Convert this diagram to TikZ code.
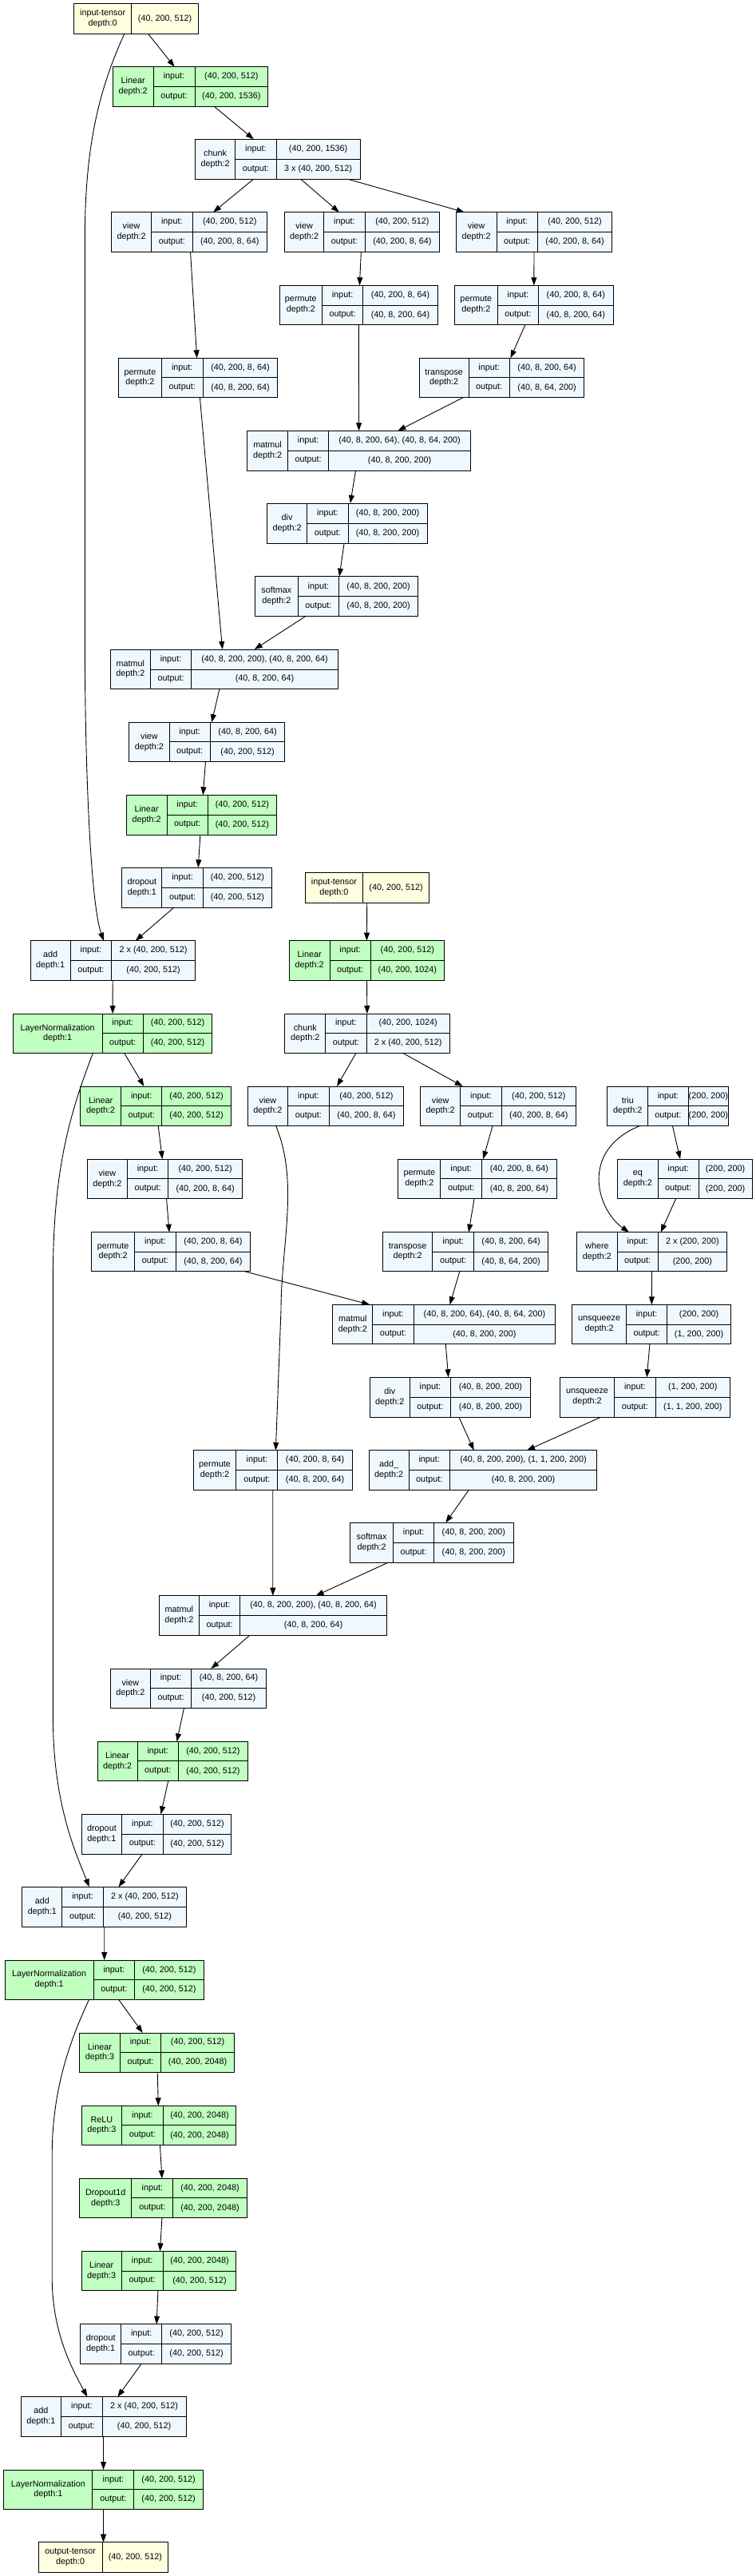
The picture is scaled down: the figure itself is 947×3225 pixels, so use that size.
\documentclass[tikz,border=0pt]{standalone}
\usepackage{fontspec}
\setmainfont{Liberation Sans}
\usetikzlibrary{arrows.meta}
\definecolor{tyellow}{HTML}{FFFFE0}
\definecolor{tgreen}{HTML}{C1FFC1}
\definecolor{tblue}{HTML}{F0F8FF}
\newcommand\lbfont{\fontsize{10.8}{12.7}\selectfont}
\tikzset{
  boxnode/.style={draw=black, line width=1pt, inner sep=0pt, outer sep=0pt, rectangle},
  gridline/.style={line width=1pt},
  lbl/.style={inner sep=0pt, align=center, font=\lbfont},
  conn/.style={-{Triangle[length=10pt,width=7pt]}, line width=0.9pt, draw=black},
}
% op box: name, fill, x1, y1, x2, y2, c1, c2, ymid, then {label}{in}{out}
\newcommand\opbox[9]{%
  \node[boxnode,fill=#2,minimum width={#5-#3},minimum height={#6-#4}] (#1) at ({(#3+#5)/2},{(#4+#6)/2}) {};
  \draw[gridline] (#7,#4) -- (#7,#6) (#8,#4) -- (#8,#6) (#7,#9) -- (#5,#9);
  \def\bxname{#1}\def\bxa{#3}\def\bxb{#4}\def\bxc{#5}\def\bxd{#6}\def\bxe{#7}\def\bxf{#8}\def\bxg{#9}%
  \opboxtext}
\newcommand\opboxtext[3]{%
  \node[lbl] (\bxname-n) at ({(\bxa+\bxe)/2},{(\bxb+\bxd)/2}) {#1};
  \node[lbl] (\bxname-i) at ({(\bxe+\bxf)/2},{(\bxb+\bxg)/2}) {input:};
  \node[lbl] (\bxname-iv) at ({(\bxf+\bxc)/2},{(\bxb+\bxg)/2}) {#2};
  \node[lbl] (\bxname-o) at ({(\bxe+\bxf)/2},{(\bxg+\bxd)/2}) {output:};
  \node[lbl] (\bxname-ov) at ({(\bxf+\bxc)/2},{(\bxg+\bxd)/2}) {#3};}
% tensor box: name, fill, x1, y1, x2, y2, c, label, value
\newcommand\tbox[9]{%
  \node[boxnode,fill=#2,minimum width={#5-#3},minimum height={#6-#4}] (#1) at ({(#3+#5)/2},{(#4+#6)/2}) {};
  \draw[gridline] (#7,#4) -- (#7,#6);
  \node[lbl] (#1-n) at ({(#3+#7)/2},{(#4+#6)/2}) {#8};
  \node[lbl] (#1-v) at ({(#7+#5)/2},{(#4+#6)/2}) {#9};}

\begin{document}
\begin{tikzpicture}[x=1pt,y=-1pt]
\fill[white] (0,0) rectangle (947,3225);
\useasboundingbox (0,0) rectangle (947,3225);

% ---------- self attention ----------
\tbox{in0}{tyellow}{92.4}{4.3}{248.2}{42.3}{164.9}{input-tensor\\depth:0}{(40, 200, 512)}
\opbox{lin1}{tgreen}{141.3}{83.7}{335.7}{133.3}{192.0}{244.0}{108.3}{Linear\\depth:2}{(40, 200, 512)}{(40, 200, 1536)}
\opbox{chunk1}{tblue}{244.6}{174.3}{451.1}{224.3}{294.7}{346.0}{199.7}{chunk\\depth:2}{(40, 200, 1536)}{3 x (40, 200, 512)}
\opbox{viewA}{tblue}{139.5}{265.7}{334.5}{315.3}{189.6}{241.0}{290.7}{view\\depth:2}{(40, 200, 512)}{(40, 200, 8, 64)}
\opbox{viewB}{tblue}{356.3}{265.7}{550.7}{315.3}{405.8}{457.1}{290.7}{view\\depth:2}{(40, 200, 512)}{(40, 200, 8, 64)}
\opbox{viewC}{tblue}{571.3}{265.7}{766.9}{315.3}{622.0}{673.3}{290.7}{view\\depth:2}{(40, 200, 512)}{(40, 200, 8, 64)}
\opbox{permB}{tblue}{350.2}{357.3}{548.3}{406.3}{403.4}{454.7}{382.3}{permute\\depth:2}{(40, 200, 8, 64)}{(40, 8, 200, 64)}
\opbox{permC}{tblue}{569.4}{357.3}{768.1}{406.3}{623.2}{674.5}{382.3}{permute\\depth:2}{(40, 200, 8, 64)}{(40, 8, 200, 64)}
\opbox{permA}{tblue}{148.6}{448.3}{347.8}{497.7}{202.3}{254.2}{472.7}{permute\\depth:2}{(40, 200, 8, 64)}{(40, 8, 200, 64)}
\opbox{transA}{tblue}{525.4}{448.3}{731.9}{497.7}{587.0}{638.3}{472.7}{transpose\\depth:2}{(40, 8, 200, 64)}{(40, 8, 64, 200)}
\opbox{mm1}{tblue}{309.8}{539.3}{589.4}{589.0}{360.5}{411.8}{564.0}{matmul\\depth:2}{(40, 8, 200, 64), (40, 8, 64, 200)}{(40, 8, 200, 200)}
\opbox{div1}{tblue}{334.5}{630.0}{535.0}{680.0}{384.7}{436.0}{655.7}{div\\depth:2}{(40, 8, 200, 200)}{(40, 8, 200, 200)}
\opbox{soft1}{tblue}{319.4}{721.7}{523.6}{771.0}{373.2}{424.5}{746.7}{softmax\\depth:2}{(40, 8, 200, 200)}{(40, 8, 200, 200)}
\opbox{mm2}{tblue}{138.3}{813.0}{423.3}{862.3}{188.4}{239.7}{838.0}{matmul\\depth:2}{(40, 8, 200, 200), (40, 8, 200, 64)}{(40, 8, 200, 64)}
\opbox{viewD}{tblue}{161.8}{904.3}{356.9}{953.7}{212.0}{263.3}{928.7}{view\\depth:2}{(40, 8, 200, 64)}{(40, 200, 512)}
\opbox{lin2}{tgreen}{158.2}{995.3}{346.6}{1045.0}{209.0}{260.3}{1020.0}{Linear\\depth:2}{(40, 200, 512)}{(40, 200, 512)}
\opbox{drop1}{tblue}{152.8}{1086.3}{340.6}{1136.0}{202.9}{254.2}{1111.3}{dropout\\depth:1}{(40, 200, 512)}{(40, 200, 512)}
\opbox{add1}{tblue}{38.0}{1177.7}{244.6}{1227.0}{88.2}{139.5}{1202.3}{add\\depth:1}{2 x (40, 200, 512)}{(40, 200, 512)}
\opbox{ln1}{tgreen}{16.3}{1269.0}{265.7}{1318.3}{128.0}{179.3}{1293.3}{LayerNormalization\\depth:1}{(40, 200, 512)}{(40, 200, 512)}

% ---------- cross attention ----------
\tbox{in1}{tyellow}{382.2}{1092.3}{537.5}{1130.3}{454.7}{input-tensor\\depth:0}{(40, 200, 512)}
\opbox{lin3}{tgreen}{362.3}{1177.7}{556.2}{1227.0}{413.0}{464.4}{1202.3}{Linear\\depth:2}{(40, 200, 512)}{(40, 200, 1024)}
\opbox{chunk2}{tblue}{356.9}{1269.0}{563.4}{1318.3}{407.6}{459.0}{1293.3}{chunk\\depth:2}{(40, 200, 1024)}{2 x (40, 200, 512)}
\opbox{lin4}{tgreen}{100.8}{1360.0}{289.3}{1409.3}{151.6}{202.9}{1384.7}{Linear\\depth:2}{(40, 200, 512)}{(40, 200, 512)}
\opbox{viewE}{tblue}{310.4}{1360.0}{505.4}{1409.3}{360.5}{412.4}{1384.7}{view\\depth:2}{(40, 200, 512)}{(40, 200, 8, 64)}
\opbox{viewF}{tblue}{526.6}{1360.0}{721.6}{1409.3}{576.7}{628.0}{1384.7}{view\\depth:2}{(40, 200, 512)}{(40, 200, 8, 64)}
\opbox{triu}{tblue}{760.9}{1360.0}{912.4}{1409.3}{811.6}{862.3}{1384.7}{triu\\depth:2}{(200, 200)}{(200, 200)}
\opbox{viewG}{tblue}{109.3}{1451.0}{303.7}{1500.7}{159.4}{210.7}{1475.7}{view\\depth:2}{(40, 200, 512)}{(40, 200, 8, 64)}
\opbox{permF}{tblue}{498.8}{1451.0}{697.5}{1500.7}{551.9}{603.3}{1475.7}{permute\\depth:2}{(40, 200, 8, 64)}{(40, 8, 200, 64)}
\opbox{eq}{tblue}{773.6}{1451.0}{942.0}{1500.7}{824.3}{875.0}{1475.7}{eq\\depth:2}{(200, 200)}{(200, 200)}
\opbox{permG}{tblue}{114.7}{1542.7}{313.4}{1591.7}{168.5}{220.4}{1567.0}{permute\\depth:2}{(40, 200, 8, 64)}{(40, 8, 200, 64)}
\opbox{transF}{tblue}{479.5}{1542.7}{686.6}{1591.7}{541.7}{593.6}{1567.0}{transpose\\depth:2}{(40, 8, 200, 64)}{(40, 8, 64, 200)}
\opbox{where}{tblue}{722.8}{1542.7}{910.6}{1591.7}{773.0}{824.3}{1567.0}{where\\depth:2}{2 x (200, 200)}{(200, 200)}
\opbox{mm3}{tblue}{416.7}{1633.3}{695.7}{1682.7}{466.8}{518.1}{1658.3}{matmul\\depth:2}{(40, 8, 200, 64), (40, 8, 64, 200)}{(40, 8, 200, 200)}
\opbox{unsqA}{tblue}{716.8}{1633.3}{915.5}{1682.7}{784.4}{835.7}{1658.3}{unsqueeze\\depth:2}{(200, 200)}{(1, 200, 200)}
\opbox{div2}{tblue}{463.2}{1724.3}{664.3}{1774.3}{513.3}{564.6}{1749.3}{div\\depth:2}{(40, 8, 200, 200)}{(40, 8, 200, 200)}
\opbox{unsqB}{tblue}{701.7}{1724.3}{914.3}{1774.3}{769.3}{821.3}{1749.3}{unsqueeze\\depth:2}{(1, 200, 200)}{(1, 1, 200, 200)}
\opbox{permE}{tblue}{242.1}{1815.7}{441.4}{1865.3}{295.9}{347.8}{1840.3}{permute\\depth:2}{(40, 200, 8, 64)}{(40, 8, 200, 64)}
\opbox{addu}{tblue}{462.0}{1815.7}{747.6}{1865.3}{512.1}{563.4}{1840.3}{add\_\\depth:2}{(40, 8, 200, 200), (1, 1, 200, 200)}{(40, 8, 200, 200)}
\opbox{soft2}{tblue}{438.4}{1906.3}{643.1}{1956.0}{492.8}{543.5}{1931.3}{softmax\\depth:2}{(40, 8, 200, 200)}{(40, 8, 200, 200)}
\opbox{mm4}{tblue}{199.3}{1997.7}{484.3}{2047.0}{249.4}{300.7}{2022.3}{matmul\\depth:2}{(40, 8, 200, 200), (40, 8, 200, 64)}{(40, 8, 200, 64)}
\opbox{viewH}{tblue}{138.3}{2089.0}{333.3}{2138.3}{188.4}{239.7}{2113.3}{view\\depth:2}{(40, 8, 200, 64)}{(40, 200, 512)}
\opbox{lin5}{tgreen}{122.0}{2180.3}{310.4}{2229.7}{172.1}{223.4}{2204.7}{Linear\\depth:2}{(40, 200, 512)}{(40, 200, 512)}
\opbox{drop2}{tblue}{102.1}{2271.3}{289.9}{2321.0}{152.8}{204.1}{2296.0}{dropout\\depth:1}{(40, 200, 512)}{(40, 200, 512)}
\opbox{add2}{tblue}{27.8}{2362.3}{233.7}{2412.0}{77.9}{129.2}{2387.3}{add\\depth:1}{2 x (40, 200, 512)}{(40, 200, 512)}
\opbox{ln2}{tgreen}{6.0}{2454.0}{255.4}{2503.0}{117.1}{168.5}{2478.7}{LayerNormalization\\depth:1}{(40, 200, 512)}{(40, 200, 512)}

% ---------- feed forward ----------
\opbox{lin6}{tgreen}{99.6}{2545.0}{293.5}{2594.3}{150.4}{201.7}{2569.3}{Linear\\depth:3}{(40, 200, 512)}{(40, 200, 2048)}
\opbox{relu}{tgreen}{102.1}{2636.3}{295.9}{2685.7}{152.8}{204.1}{2660.7}{ReLU\\depth:3}{(40, 200, 2048)}{(40, 200, 2048)}
\opbox{d1d}{tgreen}{99.6}{2727.3}{309.2}{2776.7}{164.9}{216.8}{2751.7}{Dropout1d\\depth:3}{(40, 200, 2048)}{(40, 200, 2048)}
\opbox{lin7}{tgreen}{102.1}{2818.3}{295.9}{2867.7}{152.2}{204.1}{2843.3}{Linear\\depth:3}{(40, 200, 2048)}{(40, 200, 512)}
\opbox{drop3}{tblue}{100.8}{2909.7}{289.3}{2959.0}{151.6}{202.9}{2934.3}{dropout\\depth:1}{(40, 200, 512)}{(40, 200, 512)}
\opbox{add3}{tblue}{26.0}{3000.7}{233.1}{3050.0}{76.7}{128.0}{3025.3}{add\\depth:1}{2 x (40, 200, 512)}{(40, 200, 512)}
\opbox{ln3}{tgreen}{4.8}{3092.0}{254.2}{3141.3}{115.9}{167.9}{3116.7}{LayerNormalization\\depth:1}{(40, 200, 512)}{(40, 200, 512)}
\tbox{out}{tyellow}{48.3}{3182.7}{210.8}{3220.7}{128.0}{output-tensor\\depth:0}{(40, 200, 512)}

% ---------- straight connectors ----------
\foreach \a/\b in {in0/lin1, lin1/chunk1, chunk1/viewA, chunk1/viewB, chunk1/viewC,
  viewA/permA, viewB/permB, viewC/permC, permC/transA, permB/mm1, transA/mm1,
  mm1/div1, div1/soft1, permA/mm2, soft1/mm2, mm2/viewD, viewD/lin2, lin2/drop1,
  drop1/add1, add1/ln1, ln1/lin4, in1/lin3, lin3/chunk2, chunk2/viewE, chunk2/viewF,
  lin4/viewG, viewG/permG, viewF/permF, permF/transF, triu/eq, eq/where,
  permG/mm3, transF/mm3, where/unsqA, mm3/div2, unsqA/unsqB, div2/addu, unsqB/addu,
  addu/soft2, permE/mm4, soft2/mm4, mm4/viewH, viewH/lin5, lin5/drop2, drop2/add2,
  add2/ln2, ln2/lin6, lin6/relu, relu/d1d, d1d/lin7, lin7/drop3, drop3/add3,
  add3/ln3, ln3/out}
  \draw[conn] (\a) -- (\b);

% ---------- curved connectors ----------
\draw[conn] ([xshift=-14.5pt]in0.south) .. controls (125,110) and (106.3,180) .. (106.3,300)
  -- (106.3,800) .. controls (106.3,950) and (112.8,1127.7) .. ([xshift=-11.5pt]add1.north);
\draw[conn] ([xshift=-24.5pt]ln1.south) .. controls (85,1400) and (66.4,1470) .. (66.4,1600)
  -- (66.4,2150) .. controls (66.4,2260) and (96,2322) .. ([xshift=-19pt]add2.north);
\draw[conn] ([xshift=-19pt]ln2.south) .. controls (85,2560) and (65.2,2620) .. (65.2,2700)
  -- (65.2,2850) .. controls (65.2,2920) and (90,2965) .. ([xshift=-20.2pt]add3.north);
\draw[conn] ([xshift=-62.4pt]viewE.south) .. controls (375,1480) and (352,1560) .. (352,1640)
  -- ([xshift=3.6pt]permE.north);
\draw[conn] ([xshift=-34.6pt]triu.south) .. controls (725,1440) and (748,1515) .. ([xshift=-28.7pt]where.north);
\end{tikzpicture}
\end{document}
